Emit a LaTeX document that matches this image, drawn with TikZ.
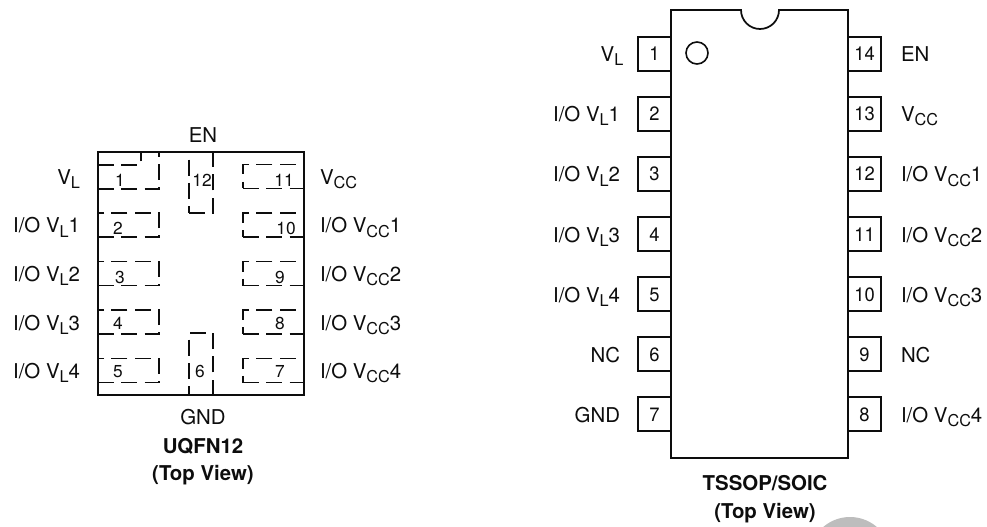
\documentclass[tikz,border=0pt]{standalone}
\usepackage{fontspec}
\setmainfont{TeX Gyre Heros}
\newfontfamily\pinfont[FakeStretch=0.95]{TeX Gyre Heros}
\usepackage{xcolor}
\definecolor{chipInk}{HTML}{0D0D0D}
\definecolor{stampGray}{HTML}{BDBDBD}
\usetikzlibrary{positioning}
\newcommand{\lowsub}[1]{\raisebox{-3pt}{\fontsize{12.2}{12.5}\selectfont #1}}
\tikzset{
    chipbody/.style={
        draw=chipInk,
        line width=1.3pt,
        rectangle,
        inner sep=0pt,
        outer sep=0pt
    },
    padbox/.style={
        draw=chipInk,
        line width=0.95pt,
        dash pattern=on 12pt off 5.5pt,
        rectangle,
        inner sep=0pt,
        outer sep=0pt,
        minimum height=18pt,
        minimum width=45.75pt
    },
    padline/.style={
        draw=chipInk,
        line width=0.95pt,
        dash pattern=on 12pt off 5.5pt
    },
    padnum/.style={
        inner sep=0pt,
        text=chipInk,
        font=\fontsize{13}{13}\selectfont
    },
    pinbox/.style={
        draw=chipInk,
        line width=0.95pt,
        rectangle,
        inner sep=0pt,
        outer sep=0pt,
        minimum height=25.5pt,
        minimum width=24.75pt,
        text height=10.5pt,
        text depth=0pt,
        text=chipInk,
        font=\pinfont\fontsize{14.5}{15}\selectfont
    },
    pinlabel/.style={
        inner sep=0pt,
        outer sep=0pt,
        text height=12pt,
        text depth=0pt,
        text=chipInk,
        font=\fontsize{15.3}{16}\selectfont
    },
    viewtitle/.style={
        pinlabel,
        font=\fontsize{15.3}{16}\selectfont\bfseries
    }
}

\begin{document}
\begin{tikzpicture}[x=0.75pt,y=-0.75pt]
    \useasboundingbox (0,0) rectangle (987,527);

    % UQFN pads, left column
    \node[padbox, minimum height=27.75pt] (pad1) at (128.5,170.5) {};
    \node[padbox] (pad2) at (128.5,225) {};
    \node[padbox, below=18.4pt of pad2] (pad3) {};
    \node[padbox, below=18.4pt of pad3] (pad4) {};
    \node[padbox, below=18.4pt of pad4] (pad5) {};

    % UQFN pads, right column
    \node[padbox, right=63pt of pad5] (pad7) {};
    \node[padbox, above=18.4pt of pad7] (pad8) {};
    \node[padbox, above=18.4pt of pad8] (pad9) {};
    \node[padbox, above=18.4pt of pad9] (pad10) {};
    \node[padbox, above=18.4pt of pad10] (pad11) {};

    % UQFN pads, top and bottom
    \node[padbox, minimum width=18pt, minimum height=45.75pt] (pad12) at (201,182.5) {};
    \node[padbox, minimum width=18pt, minimum height=46.5pt] (pad6) at (201,364) {};

    % Pin 1 corner
    \coordinate (cornerA) at (98,165);
    \coordinate (cornerB) at (141,152);
    \draw[padline] (cornerA) -| (cornerB);

    % UQFN body
    \node[chipbody, minimum width=154.5pt, minimum height=182.25pt] (uqfn) at (201,273.5) {};

    % UQFN numbers
    \node[padnum] (num1) at (120,180) {1};
    \node[padnum] (num2) at (118,228) {2};
    \node[padnum] (num3) at (120,277) {3};
    \node[padnum] (num4) at (118,323) {4};
    \node[padnum] (num5) at (118,372) {5};
    \node[padnum] (num6) at (200,371) {6};
    \node[padnum] (num7) at (280,371) {7};
    \node[padnum] (num8) at (280,323) {8};
    \node[padnum] (num9) at (280,277) {9};
    \node[padnum] (num10) at (286,228) {10};
    \node[padnum] (num11) at (284,180) {11};
    \node[padnum] (num12) at (202,180) {12};

    % UQFN labels
    \node[pinlabel, anchor=east] (vlA) at (80,177) {V\lowsub{L}};
    \node[pinlabel, left=13.5pt of pad2] (ioA) {I/O V\lowsub{L}1};
    \node[pinlabel, left=13.5pt of pad3] (ioB) {I/O V\lowsub{L}2};
    \node[pinlabel, left=13.5pt of pad4] (ioC) {I/O V\lowsub{L}3};
    \node[pinlabel, left=13.5pt of pad5] (ioD) {I/O V\lowsub{L}4};
    \node[pinlabel, right=12pt of pad11] (vccA) {V\lowsub{CC}};
    \node[pinlabel, right=12pt of pad10] (ioE) {I/O V\lowsub{CC}1};
    \node[pinlabel, right=12pt of pad9] (ioF) {I/O V\lowsub{CC}2};
    \node[pinlabel, right=12pt of pad8] (ioG) {I/O V\lowsub{CC}3};
    \node[pinlabel, right=12pt of pad7] (ioH) {I/O V\lowsub{CC}4};
    \node[pinlabel, above=6.75pt of uqfn, xshift=1.5pt] (enA) {EN};
    \node[pinlabel, below=9.75pt of uqfn, xshift=1.5pt] (gndA) {GND};
    \node[viewtitle, below=9.75pt of gndA] (uqfntitle) {UQFN12};
    \node[viewtitle, below=8.25pt of uqfntitle] (uqfnview) {(Top View)};

    % TSSOP pins, left side
    \node[pinbox] (pin1) at (654.5,54) {1};
    \node[pinbox, below=19.5pt of pin1] (pin2) {2};
    \node[pinbox, below=19.5pt of pin2] (pin3) {3};
    \node[pinbox, below=19.5pt of pin3] (pin4) {4};
    \node[pinbox, below=19.5pt of pin4] (pin5) {5};
    \node[pinbox, below=19.5pt of pin5] (pin6) {6};
    \node[pinbox, below=19.5pt of pin6] (pin7) {7};

    % TSSOP pins, right side
    \node[pinbox, right=132.75pt of pin1] (pin14) {14};
    \node[pinbox, right=132.75pt of pin2] (pin13) {13};
    \node[pinbox, right=132.75pt of pin3] (pin12) {12};
    \node[pinbox, right=132.75pt of pin4] (pin11) {11};
    \node[pinbox, right=132.75pt of pin5] (pin10) {10};
    \node[pinbox, right=132.75pt of pin6] (pin9) {9};
    \node[pinbox, right=132.75pt of pin7] (pin8) {8};

    % TSSOP body
    \draw[chipbody] (671,10) -- (741,10)
        arc[start angle=180, end angle=0, radius=19]
        -- (848,10) -- (848,458) -- (671,458) -- cycle;
    \node[circle, draw=chipInk, line width=1.2pt, minimum size=16.5pt, inner sep=0pt] (dot) at (697,53) {};

    % TSSOP labels
    \node[pinlabel, left=11pt of pin1] (vlB) {V\lowsub{L}};
    \node[pinlabel, left=13.5pt of pin2] (ioJ) {I/O V\lowsub{L}1};
    \node[pinlabel, left=13.5pt of pin3] (ioK) {I/O V\lowsub{L}2};
    \node[pinlabel, left=13.5pt of pin4] (ioL) {I/O V\lowsub{L}3};
    \node[pinlabel, left=13.5pt of pin5] (ioM) {I/O V\lowsub{L}4};
    \node[pinlabel, left=13.5pt of pin6] (ncA) {NC};
    \node[pinlabel, left=13.5pt of pin7] (gndB) {GND};
    \node[pinlabel, right=15pt of pin14] (enB) {EN};
    \node[pinlabel, right=15pt of pin13] (vccB) {V\lowsub{CC}};
    \node[pinlabel, right=15pt of pin12] (ioN) {I/O V\lowsub{CC}1};
    \node[pinlabel, right=15pt of pin11] (ioP) {I/O V\lowsub{CC}2};
    \node[pinlabel, right=15pt of pin10] (ioQ) {I/O V\lowsub{CC}3};
    \node[pinlabel, right=15pt of pin9] (ncB) {NC};
    \node[pinlabel, right=15pt of pin8] (ioR) {I/O V\lowsub{CC}4};
    \coordinate (tssopfoot) at (765,458);
    \node[viewtitle, below=12pt of tssopfoot] (tssoptitle) {TSSOP/SOIC};
    \node[viewtitle, below=9pt of tssoptitle] (tssopview) {(Top View)};

    % Gray disc at the page edge
    \node[circle, fill=stampGray, minimum size=61.5pt, inner sep=0pt] (stamp) at (850,558) {};
\end{tikzpicture}
\end{document}
